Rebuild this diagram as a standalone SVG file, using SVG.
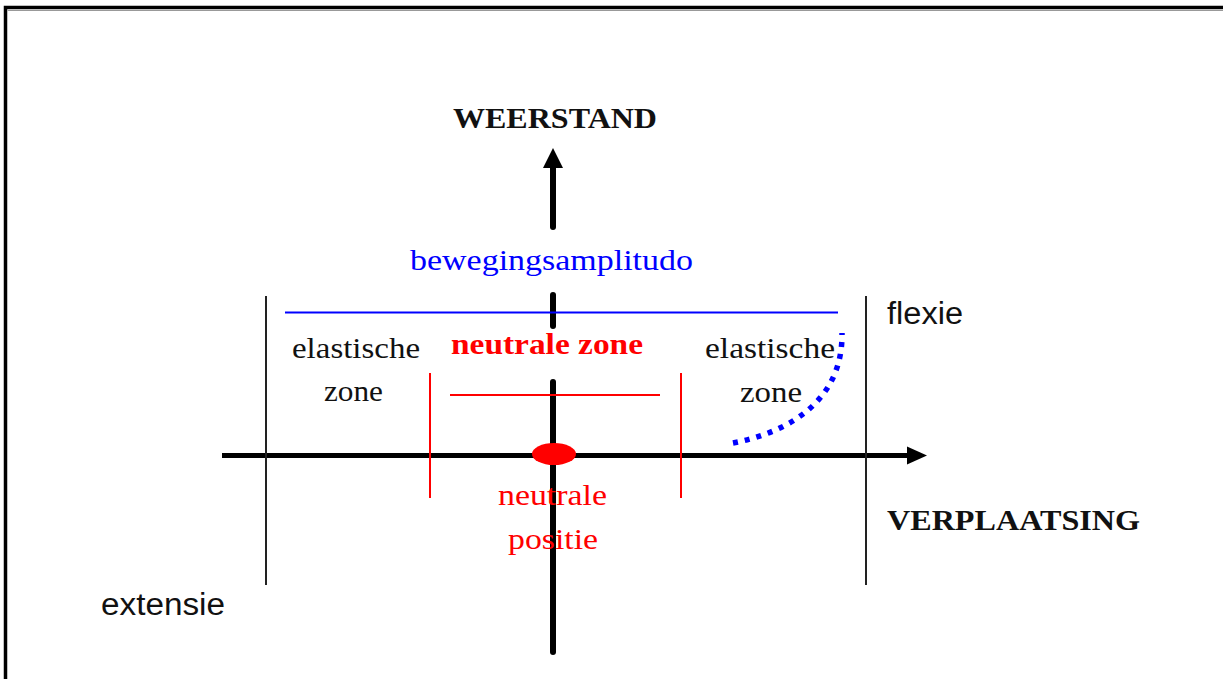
<svg xmlns="http://www.w3.org/2000/svg" width="1223" height="679" viewBox="0 0 1223 679">
<style>
.serif{font-family:"Liberation Serif","Times New Roman",serif;font-size:30px}
.bold{font-weight:bold;font-size:30px}
.sans{font-family:"Liberation Sans",Arial,sans-serif;font-size:31px;fill:#111}
.blk{fill:#111}
.red{fill:#ff0000}
.blue{fill:#0000ff}
.axis{stroke:#000;stroke-width:6;stroke-linecap:round;fill:none}
.thin{stroke:#222;stroke-width:2;fill:none}
.rl{stroke:#ff0000;stroke-width:2;fill:none}
</style>
<rect x="0" y="0" width="1223" height="679" fill="#fff"/>
<g id="frame">
<path d="M5.5,679 V7.5 H1223" stroke="#000" stroke-width="3.5" fill="none"/>
<path d="M7.5,10.5 H1223" stroke="#999" stroke-width="1"/>
</g>
<g id="connectors">
<path class="axis" d="M553,227 V166" stroke-linecap="butt"/>
<path d="M553,148 L563,168 L543,168 Z" fill="#000"/>
<path class="axis" d="M553,295 V326"/>
<path class="axis" d="M553,382 V652"/>
<path d="M222,455.5 H908" stroke="#000" stroke-width="5"/>
<path d="M927,455.5 L907,446.5 L907,464.5 Z" fill="#000"/>
<path class="thin" d="M266,296 V585"/>
<path class="thin" d="M866,296 V585"/>
<path d="M285,312.5 H838" stroke="#0000ff" stroke-width="2"/>
<path class="rl" d="M450,395 H660"/>
<path class="rl" d="M430,373 V498"/>
<path class="rl" d="M681,373 V498"/>
<path d="M733,443 C790,432 843,400 842,333" stroke="#0000ff" stroke-width="5.5" fill="none" stroke-dasharray="5 7"/>
</g>
<g id="neutral-position">
<ellipse cx="554" cy="454" rx="22" ry="11" fill="#ff0000"/>
<text class="serif red" x="498" y="505" textLength="109" lengthAdjust="spacingAndGlyphs">neutrale</text>
<text class="serif red" x="508" y="549" textLength="90" lengthAdjust="spacingAndGlyphs">positie</text>
</g>
<g id="weerstand">
<text class="serif bold blk" x="453" y="128" textLength="204" lengthAdjust="spacingAndGlyphs">WEERSTAND</text>
</g>
<g id="verplaatsing">
<text class="serif bold blk" x="887" y="530" textLength="253" lengthAdjust="spacingAndGlyphs">VERPLAATSING</text>
</g>
<g id="amplitude">
<text class="serif blue" x="410" y="270" textLength="283" lengthAdjust="spacingAndGlyphs">bewegingsamplitudo</text>
</g>
<g id="neutral-zone">
<text class="serif bold red" x="451" y="354" textLength="192" lengthAdjust="spacingAndGlyphs">neutrale zone</text>
</g>
<g id="elastic-left">
<text class="serif blk" x="292" y="358" textLength="128" lengthAdjust="spacingAndGlyphs">elastische</text>
<text class="serif blk" x="324" y="401" textLength="59" lengthAdjust="spacingAndGlyphs">zone</text>
</g>
<g id="elastic-right">
<text class="serif blk" x="705" y="358" textLength="130" lengthAdjust="spacingAndGlyphs">elastische</text>
<text class="serif blk" x="740" y="402" textLength="62" lengthAdjust="spacingAndGlyphs">zone</text>
</g>
<g id="flexie">
<text class="sans" x="887" y="324" textLength="76" lengthAdjust="spacingAndGlyphs">flexie</text>
</g>
<g id="extensie">
<text class="sans" x="101" y="615" textLength="124" lengthAdjust="spacingAndGlyphs">extensie</text>
</g>
</svg>
